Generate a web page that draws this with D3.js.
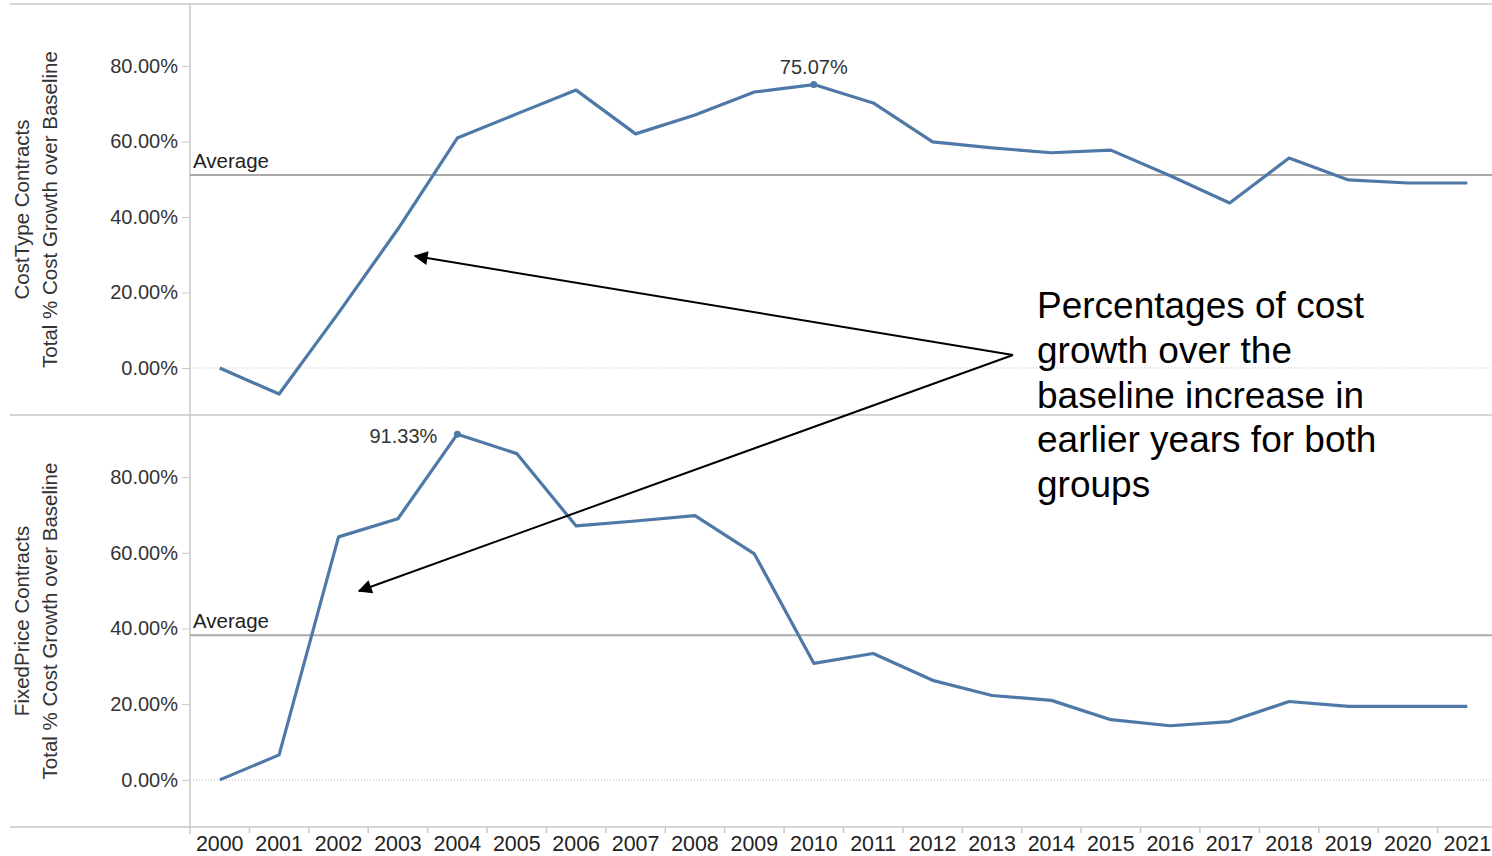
<!DOCTYPE html>
<html>
<head>
<meta charset="utf-8">
<script src="https://cdn.jsdelivr.net/npm/d3@7"></script>
<style>
  html, body { margin: 0; padding: 0; background: #fff; }
  svg { display: block; font-family: "Liberation Sans", Arial, sans-serif; }
</style>
</head>
<body>
<svg id="chart" width="1492" height="856"></svg>
<script>
// Fiscal years on the shared x axis
const years = ["2000","2001","2002","2003","2004","2005","2006","2007","2008","2009","2010",
               "2011","2012","2013","2014","2015","2016","2017","2018","2019","2020","2021"];

// Total % cost growth over baseline, cost-type contracts
const costTypeValues = [0, -6.9, 14.6, 36.8, 60.9, 67.3, 73.6, 62.0, 67.0, 73.1, 75.07,
                        70.2, 59.9, 58.3, 57.0, 57.7, 50.9, 43.7, 55.6, 49.8, 49.0, 49.0];

// Total % cost growth over baseline, fixed-price contracts
const fixedPriceValues = [0, 6.6, 64.2, 69.0, 91.33, 86.2, 67.1, 68.4, 69.8, 59.7, 30.8,
                          33.4, 26.3, 22.3, 21.0, 15.9, 14.3, 15.4, 20.7, 19.4, 19.4, 19.4];

const yTicks = [0, 20, 40, 60, 80];
const panelTitles = ["CostType Contracts", "FixedPrice Contracts"];
const measureTitle = "Total % Cost Growth over Baseline";
const annotationLines = ["Percentages of cost", "growth over the", "baseline increase in",
                         "earlier years for both", "groups"];

const svg = d3.select("#chart");
const lineColor = "#4e79a7";
const gridColor = "#c8c8c8";
const textColor = "#333";

const left = 190, right = 1492, frameLeft = 10;
const panels = [
  { top: 4, bottom: 415, values: costTypeValues, title: panelTitles[0] },
  { top: 415, bottom: 827, values: fixedPriceValues, title: panelTitles[1] }
];

const x = d3.scaleBand().domain(years).range([left, 1497]).padding(0);
const fmt = v => d3.format(".2f")(v) + "%";

// Outer frame lines
[4, 415, 827].forEach(yy => {
  svg.append("line").attr("x1", frameLeft).attr("x2", right).attr("y1", yy).attr("y2", yy)
    .attr("stroke", gridColor).attr("stroke-width", 1.5);
});
svg.append("line").attr("x1", left).attr("x2", left).attr("y1", 4).attr("y2", 834)
  .attr("stroke", gridColor).attr("stroke-width", 1.5);

panels.forEach((p, i) => {
  const y = d3.scaleLinear().domain([-12.45, 96.4]).range([p.bottom, p.top]);
  const g = svg.append("g");

  // Zero reference (dotted)
  g.append("line").attr("x1", left).attr("x2", right).attr("y1", y(0)).attr("y2", y(0))
    .attr("stroke", "#bbb").attr("stroke-width", 1).attr("stroke-dasharray", "1,2");

  // Y axis
  const yAxis = d3.axisLeft(y).tickValues(yTicks).tickFormat(fmt).tickSize(7).tickPadding(4);
  const ya = g.append("g").attr("transform", `translate(${left - 1},0)`).call(yAxis);
  ya.select(".domain").remove();
  ya.selectAll(".tick line").attr("stroke", gridColor);
  ya.selectAll(".tick text").attr("fill", textColor).style("font-size", "20px")
    .style("font-family", "'Liberation Sans', Arial, sans-serif");

  // Axis titles
  const cy = (p.top + p.bottom) / 2;
  g.append("text").attr("transform", `translate(29,${cy}) rotate(-90)`)
    .attr("text-anchor", "middle").attr("fill", textColor).style("font-size", "20.5px")
    .text(p.title);
  g.append("text").attr("transform", `translate(57,${cy}) rotate(-90)`)
    .attr("text-anchor", "middle").attr("fill", textColor).style("font-size", "20.5px")
    .text(measureTitle);

  // Average reference line
  const avg = d3.mean(p.values);
  g.append("line").attr("x1", left).attr("x2", right).attr("y1", y(avg)).attr("y2", y(avg))
    .attr("stroke", "#aaa").attr("stroke-width", 2);
  g.append("text").attr("x", left + 3).attr("y", y(avg) - 7).attr("fill", "#222")
    .style("font-size", "20.5px").text("Average");

  // Series line
  const line = d3.line()
    .x((d, k) => x(years[k]) + x.bandwidth() / 2)
    .y(d => y(d));
  g.append("path").datum(p.values).attr("d", line).attr("fill", "none")
    .attr("stroke", lineColor).attr("stroke-width", 3.2).attr("stroke-linejoin", "round");

  // Maximum marker and label
  const maxIdx = d3.maxIndex(p.values);
  const mx = x(years[maxIdx]) + x.bandwidth() / 2, my = y(p.values[maxIdx]);
  g.append("circle").attr("cx", mx).attr("cy", my).attr("r", 3.5).attr("fill", lineColor);
  if (i === 0) {
    g.append("text").attr("x", mx).attr("y", my - 11).attr("text-anchor", "middle")
      .attr("fill", textColor).style("font-size", "20px").text(fmt(p.values[maxIdx]));
  } else {
    g.append("text").attr("x", mx - 20).attr("y", my + 9).attr("text-anchor", "end")
      .attr("fill", textColor).style("font-size", "20px").text(fmt(p.values[maxIdx]));
  }
});

// X axis with ticks on band boundaries
const xa = svg.append("g").attr("transform", "translate(0,827)");
xa.selectAll("line.tk").data(years.slice(1)).join("line")
  .attr("x1", d => x(d)).attr("x2", d => x(d)).attr("y1", 0).attr("y2", 6)
  .attr("stroke", gridColor).attr("stroke-width", 1.5);
xa.selectAll("text").data(years).join("text")
  .attr("x", d => x(d) + x.bandwidth() / 2).attr("y", 24).attr("text-anchor", "middle")
  .attr("fill", "#222").style("font-size", "21.4px").text(d => d);

// Annotation with arrows
const defs = svg.append("defs");
defs.append("marker").attr("id", "arrowhead").attr("viewBox", "0 0 10 10")
  .attr("refX", 9).attr("refY", 5).attr("markerWidth", 18).attr("markerHeight", 14)
  .attr("markerUnits", "userSpaceOnUse").attr("orient", "auto")
  .append("path").attr("d", "M0,0 L10,5 L0,10 Z").attr("fill", "#000");

const origin = [1013, 355];
const targets = [[415, 256], [359, 591]];
targets.forEach(t => {
  svg.append("line").attr("x1", origin[0]).attr("y1", origin[1]).attr("x2", t[0]).attr("y2", t[1])
    .attr("stroke", "#000").attr("stroke-width", 2).attr("marker-end", "url(#arrowhead)");
});

const note = svg.append("text").attr("x", 1037).attr("y", 318).attr("fill", "#000")
  .style("font-size", "37px");
annotationLines.forEach((s, k) => {
  note.append("tspan").attr("x", 1037).attr("dy", k === 0 ? 0 : 44.8).text(s);
});
</script>
</body>
</html>
